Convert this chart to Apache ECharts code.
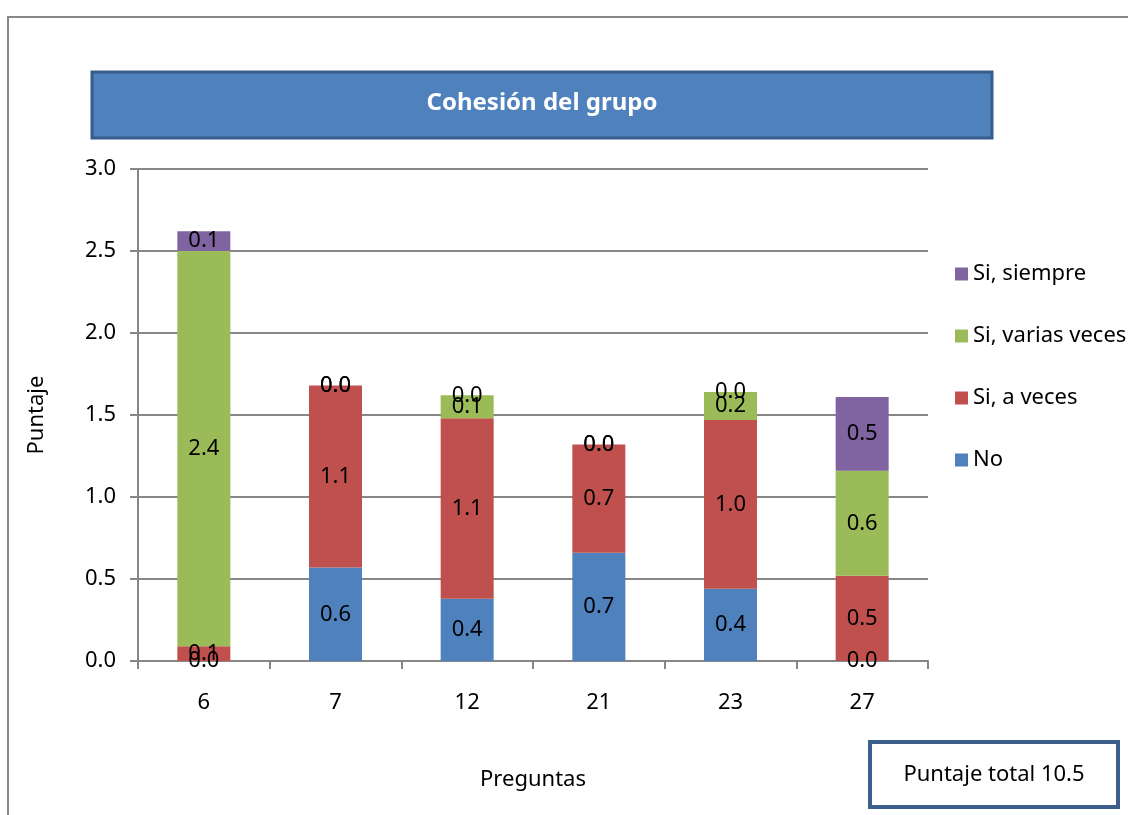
<!DOCTYPE html>
<html>
<head>
<meta charset="utf-8">
<script src="https://cdn.jsdelivr.net/npm/echarts@6/dist/echarts.min.js"></script>
<style>
html,body{margin:0;padding:0;background:#fff;}
#chart{width:1128px;height:815px;}
</style>
</head>
<body>
<div id="chart"></div>
<script>
const categories = ['6', '7', '12', '21', '23', '27'];
const seriesNames = ['No', 'Si, a veces', 'Si, varias veces', 'Si, siempre'];
const noValues = [0.00, 0.57, 0.38, 0.66, 0.44, 0.00];
const aVecesValues = [0.09, 1.11, 1.10, 0.66, 1.03, 0.52];
const variasValues = [2.41, 0.00, 0.14, 0.00, 0.17, 0.64];
const siempreValues = [0.12, 0.00, 0.00, 0.00, 0.00, 0.45];
const yTicks = [0, 0.5, 1.0, 1.5, 2.0, 2.5, 3.0];
const titleText = 'Cohesión del grupo';
const totalText = 'Puntaje total 10.5';

const colors = ['#4f81bd', '#c0504d', '#9bbb59', '#8064a2'];
const FONT = 'Noto Sans';
const FS = 22;
const allValues = [noValues, aVecesValues, variasValues, siempreValues];

const chart = echarts.init(document.getElementById('chart'));
const series = seriesNames.map((name, i) => ({
  name: name,
  type: 'bar',
  stack: 'total',
  barWidth: 53,
  data: allValues[i],
  itemStyle: { color: colors[i] },
  label: {
    show: true,
    position: 'inside',
    color: '#000',
    fontFamily: FONT,
    fontSize: FS,
    formatter: p => Number(p.value).toFixed(1)
  }
}));

chart.setOption({
  animation: false,
  textStyle: { fontFamily: FONT },
  grid: { left: 138, right: 200, top: 169, bottom: 154 },
  legend: {
    orient: 'vertical',
    left: 950,
    top: 258,
    itemGap: 40,
    itemWidth: 13,
    itemHeight: 13,
    icon: 'rect',
    data: seriesNames.slice().reverse(),
    textStyle: { fontFamily: FONT, fontSize: FS, color: '#000' }
  },
  xAxis: {
    type: 'category',
    data: categories,
    name: 'Preguntas',
    nameLocation: 'middle',
    nameGap: 108,
    nameTextStyle: { fontFamily: FONT, fontSize: FS, color: '#000' },
    axisLine: { lineStyle: { color: '#868686', width: 2 } },
    axisTick: { show: true, length: 8, lineStyle: { color: '#868686', width: 2 } },
    axisLabel: { margin: 31, fontFamily: FONT, fontSize: FS, color: '#000' }
  },
  yAxis: {
    type: 'value',
    min: yTicks[0],
    max: yTicks[yTicks.length - 1],
    interval: 0.5,
    name: 'Puntaje',
    nameLocation: 'middle',
    nameGap: 90,
    nameRotate: 90,
    nameTextStyle: { fontFamily: FONT, fontSize: FS, color: '#000' },
    axisLine: { show: true, lineStyle: { color: '#868686', width: 2 } },
    axisTick: { show: true, length: 8, lineStyle: { color: '#868686', width: 2 } },
    splitLine: { lineStyle: { color: '#868686', width: 2 } },
    axisLabel: { margin: 22, fontFamily: FONT, fontSize: FS, color: '#000', formatter: v => v.toFixed(1) }
  },
  series: series,
  graphic: [
    {
      type: 'rect',
      z: -10,
      shape: { x: 8, y: 17, width: 1200, height: 900 },
      style: { fill: 'none', stroke: '#888', lineWidth: 2 }
    },
    {
      type: 'rect',
      shape: { x: 92, y: 72, width: 900, height: 66 },
      style: { fill: '#4f81bd', stroke: '#385d8a', lineWidth: 3 }
    },
    {
      type: 'text',
      x: 542, y: 103,
      style: {
        text: titleText,
        fill: '#fff',
        font: 'bold 24px "Noto Sans"',
        textAlign: 'center',
        textVerticalAlign: 'middle'
      }
    },
    {
      type: 'rect',
      shape: { x: 870, y: 742, width: 248, height: 65 },
      style: { fill: '#fff', stroke: '#3c5f8c', lineWidth: 4 }
    },
    {
      type: 'text',
      x: 994, y: 775,
      style: {
        text: totalText,
        fill: '#000',
        font: '22px "Noto Sans"',
        textAlign: 'center',
        textVerticalAlign: 'middle'
      }
    }
  ]
});
</script>
</body>
</html>
